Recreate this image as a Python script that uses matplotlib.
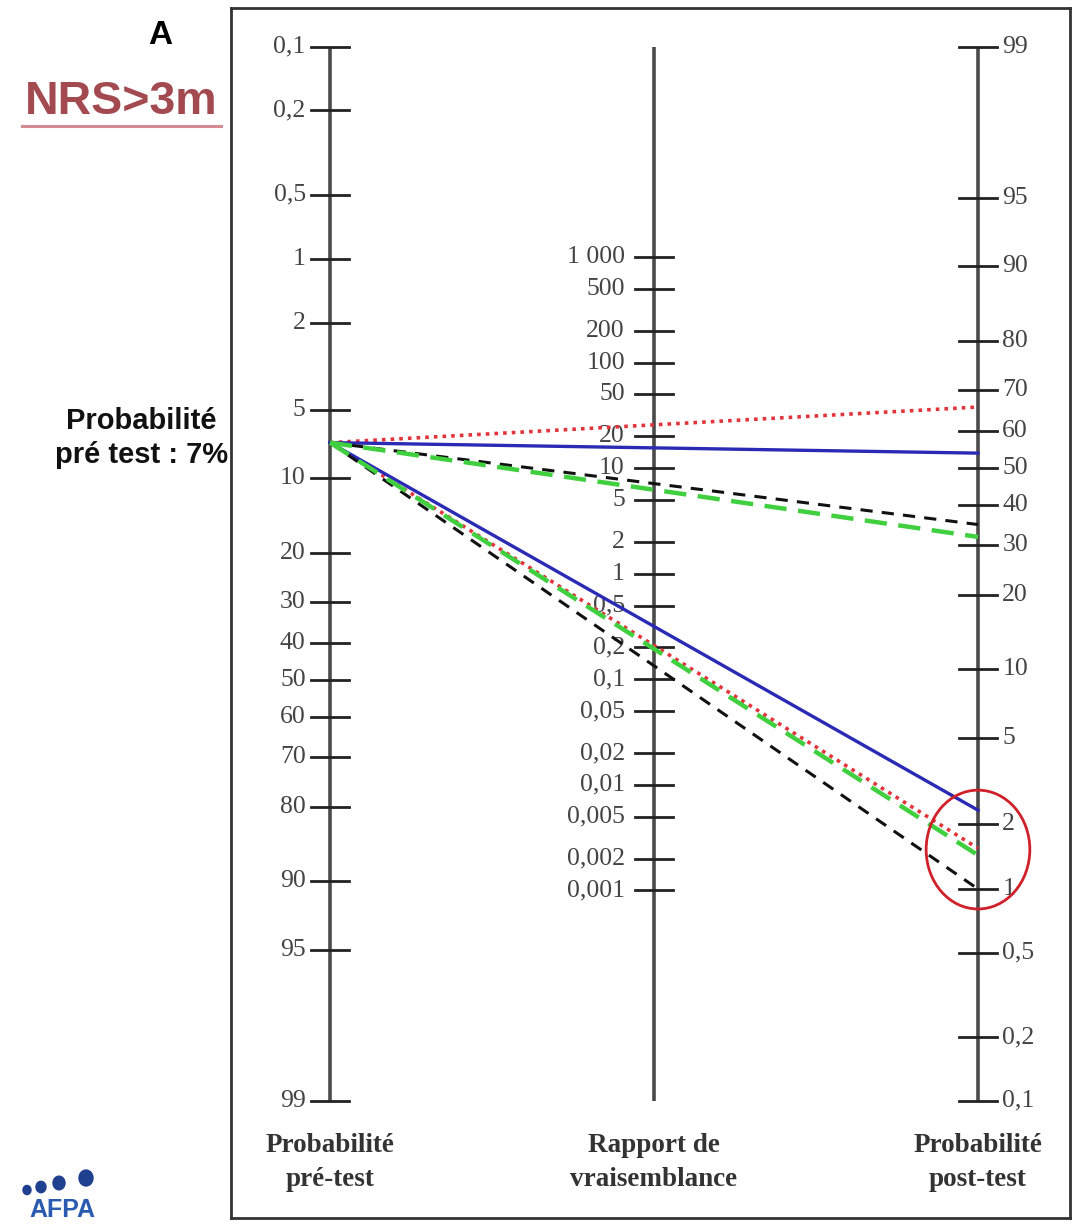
import numpy as np
import matplotlib.pyplot as plt
from matplotlib.patches import Ellipse

# Fagan nomogram scales
pre_ticks = [0.1, 0.2, 0.5, 1, 2, 5, 10, 20, 30, 40, 50, 60, 70, 80, 90, 95, 99]
lr_ticks = [1000, 500, 200, 100, 50, 20, 10, 5, 2, 1,
            0.5, 0.2, 0.1, 0.05, 0.02, 0.01, 0.005, 0.002, 0.001]
post_ticks = [99, 95, 90, 80, 70, 60, 50, 40, 30, 20, 10, 5, 2, 1, 0.5, 0.2, 0.1]

# pre-test probability (%) and post-test probabilities (%) for each test
pretest = 7.0
tests = ["test1", "test2", "test3", "test4"]
post_positive = [66.0, 54.0, 35.0, 32.0]
post_negative = [1.55, 2.33, 1.0, 1.44]

colors = ["#e3343c", "#2a2ab4", "#111111", "#3fcf3f"]
styles = [(0, (1, 1.4)), "-", (0, (4, 3)), (0, (5, 2.6))]
widths = [2.6, 2.4, 2.2, 3.2]


def logit(p):
    p = np.asarray(p, dtype=float) / 100.0
    return np.log10(p / (1 - p))


offset = -(logit(pre_ticks[0]) + logit(pre_ticks[-1])) / 2


def y_pre(p):
    return -logit(p) - offset


def y_post(p):
    return logit(p) + offset


def y_lr(lr):
    return np.log10(lr) / 2


def fmt(v):
    if v >= 1000:
        return f"{int(v):,}".replace(",", " ")
    if float(v).is_integer():
        return str(int(v))
    return f"{v:g}".replace(".", ",")


W, H = 1076, 1225
fig = plt.figure(figsize=(W / 100, H / 100), dpi=100)
ax = fig.add_axes([231 / W, 7 / H, 839 / W, 1210 / H])
ax.set_xlim(-0.3056, 2.284)
ax.set_ylim(-3.053, 2.681)
ax.set_xticks([])
ax.set_yticks([])
for sp in ax.spines.values():
    sp.set_linewidth(2.0)
    sp.set_color("#333333")

serif = "Liberation Serif"
axis_col = "#4a4a4a"
lab_col = "#444444"
tick_half = 0.06
tick_fs = 18.5

# vertical scales
top, bottom = y_pre(pre_ticks[0]), y_pre(pre_ticks[-1])
for x in (0, 1, 2):
    ax.plot([x, x], [bottom, top], color=axis_col, lw=2.6, zorder=2,
            solid_capstyle="butt")

for v in pre_ticks:
    y = y_pre(v)
    ax.plot([-tick_half, tick_half], [y, y], color="#222222", lw=2.0, zorder=2)
    ax.text(-0.075, y, fmt(v), ha="right", va="center", fontsize=tick_fs,
            family=serif, color=lab_col)

for v in lr_ticks:
    y = y_lr(v)
    ax.plot([1 - tick_half, 1 + tick_half], [y, y], color="#222222", lw=2.0,
            zorder=2)
    ax.text(0.91, y, fmt(v), ha="right", va="center", fontsize=tick_fs,
            family=serif, color=lab_col)

for v in post_ticks:
    y = y_post(v)
    ax.plot([2 - tick_half, 2 + tick_half], [y, y], color="#222222", lw=2.0,
            zorder=2)
    ax.text(2.075, y, fmt(v), ha="left", va="center", fontsize=tick_fs,
            family=serif, color=lab_col)

# lines from the pre-test probability to each post-test probability
for i, name in enumerate(tests):
    for post in (post_positive[i], post_negative[i]):
        ax.plot([0, 2], [y_pre(pretest), y_post(post)], color=colors[i],
                linestyle=styles[i], lw=widths[i], zorder=3)

# highlight of the negative-test results
neg_y = y_post(np.array(post_negative))
ax.add_patch(Ellipse((2.0, (neg_y.min() + neg_y.max()) / 2), 0.32,
                     neg_y.max() - neg_y.min() + 0.19, fill=False,
                     edgecolor="#d0202a", lw=2.0, zorder=4))

# scale titles
bottom_labels = ["Probabilité\npré-test", "Rapport de\nvraisemblance",
                 "Probabilité\npost-test"]
for x, lab in zip((0, 1, 2), bottom_labels):
    ax.text(x, -2.79, lab, ha="center", va="center", fontsize=19.5,
            family=serif, fontweight="bold", color="#333333", linespacing=1.5)

# annotations outside the nomogram
sans = "Liberation Sans"
fig.text(160 / W, 1 - 36 / H, "A", ha="center", va="center", fontsize=24,
         family=sans, fontweight="bold")
fig.text(121 / W, 1 - 102 / H, "NRS>3m", ha="center", va="center",
         fontsize=33.5, family=sans, fontweight="bold", color="#a34a50")
fig.add_artist(plt.Line2D([22 / W, 221 / W], [1 - 126 / H, 1 - 126 / H],
                          color="#d48c92", lw=2.2))
fig.text(228 / W, 1 - 438 / H, "Probabilité\npré test : 7%", ha="right",
         va="center", multialignment="center", fontsize=21, family=sans,
         fontweight="bold", linespacing=1.3, color="#111111")

# logo
fig.text(62 / W, 1 - 1210 / H, "AFPA", ha="center", va="center", fontsize=18,
         family=sans, fontweight="bold", color="#2b5bb0")
for px, py, r in [(27, 1190, 4), (41, 1187, 5), (59, 1183, 6), (86, 1178, 7)]:
    fig.add_artist(plt.Circle((px / W, 1 - py / H), r / W, color="#1f3f8f",
                              transform=fig.transFigure))

fig.savefig("out.png", dpi=100)
